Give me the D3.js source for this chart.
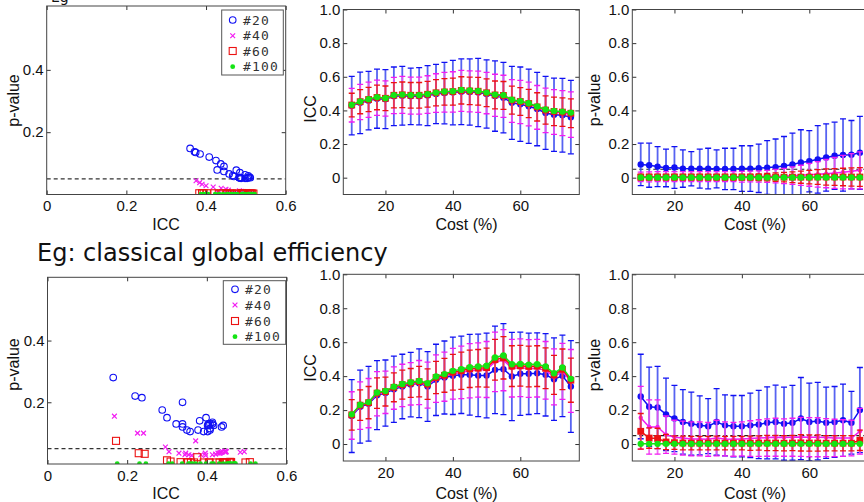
<!DOCTYPE html>
<html>
<head>
<meta charset="utf-8">
<script src="https://cdn.jsdelivr.net/npm/d3@7"></script>
<style>
  html, body { margin: 0; padding: 0; background: #fff; }
  svg { display: block; }
</style>
</head>
<body>
<svg id="fig" width="864" height="502"></svg>
<script>
// ---------- data ----------
const costs = [10,12.5,15,17.5,20,22.5,25,27.5,30,32.5,35,37.5,40,42.5,45,47.5,50,52.5,55,57.5,60,62.5,65,67.5,70,72.5,75];
const groupNames = ["#20", "#40", "#60", "#100"];

// Eg (top row): ICC mean / SD per cost
const egIcc20  = [0.428,0.445,0.458,0.47,0.467,0.484,0.487,0.484,0.484,0.488,0.498,0.503,0.506,0.511,0.509,0.506,0.498,0.485,0.476,0.445,0.437,0.425,0.408,0.385,0.374,0.371,0.36];
const egIcc40  = [0.431,0.45,0.463,0.475,0.471,0.489,0.492,0.488,0.488,0.494,0.503,0.508,0.51,0.516,0.513,0.511,0.503,0.49,0.484,0.456,0.45,0.438,0.418,0.4,0.39,0.384,0.375];
const egIcc60  = [0.432,0.452,0.465,0.477,0.472,0.49,0.493,0.49,0.49,0.496,0.505,0.51,0.512,0.519,0.516,0.514,0.505,0.492,0.489,0.461,0.453,0.441,0.421,0.402,0.394,0.39,0.383];
const egIcc100 = [0.433,0.453,0.467,0.479,0.473,0.491,0.494,0.491,0.491,0.497,0.506,0.512,0.514,0.522,0.518,0.516,0.506,0.494,0.491,0.463,0.455,0.443,0.423,0.405,0.397,0.393,0.387];
const egIccSd20 = [0.174,0.183,0.174,0.176,0.175,0.174,0.175,0.168,0.17,0.178,0.176,0.183,0.192,0.195,0.197,0.203,0.203,0.209,0.21,0.217,0.221,0.221,0.218,0.217,0.218,0.219,0.218];
const egIccSd40 = [0.1,0.105,0.105,0.105,0.105,0.108,0.11,0.11,0.11,0.112,0.115,0.118,0.12,0.122,0.122,0.123,0.123,0.125,0.125,0.127,0.128,0.13,0.13,0.132,0.133,0.134,0.135];
const egIccSd60 = [0.07,0.072,0.072,0.073,0.073,0.075,0.076,0.076,0.076,0.077,0.078,0.079,0.08,0.081,0.082,0.083,0.083,0.083,0.083,0.083,0.083,0.084,0.084,0.084,0.085,0.085,0.085];
// Eg (top row): p-value mean / SD per cost
const egP20  = [0.079,0.074,0.066,0.058,0.061,0.054,0.053,0.054,0.054,0.052,0.052,0.052,0.054,0.054,0.056,0.06,0.063,0.07,0.078,0.09,0.098,0.109,0.12,0.13,0.135,0.137,0.148];
const egP40  = [0.005,0.005,0.006,0.006,0.006,0.006,0.006,0.006,0.006,0.006,0.006,0.006,0.006,0.007,0.007,0.008,0.009,0.01,0.012,0.014,0.017,0.02,0.024,0.028,0.033,0.038,0.044];
const egP60  = [0.003,0.003,0.003,0.003,0.003,0.003,0.003,0.003,0.003,0.003,0.003,0.003,0.003,0.003,0.003,0.003,0.003,0.003,0.003,0.003,0.003,0.004,0.004,0.004,0.004,0.004,0.004];
const egP100 = [0.001,0.001,0.001,0.001,0.001,0.001,0.001,0.001,0.001,0.001,0.001,0.001,0.001,0.001,0.001,0.001,0.001,0.001,0.001,0.001,0.001,0.001,0.001,0.001,0.001,0.001,0.001];
const egPSd20 = [0.126,0.131,0.119,0.112,0.124,0.111,0.102,0.116,0.121,0.113,0.123,0.123,0.136,0.136,0.144,0.16,0.167,0.175,0.187,0.195,0.182,0.201,0.2,0.2,0.215,0.203,0.217];
const egPSd40 = [0.028,0.03,0.03,0.03,0.03,0.03,0.03,0.03,0.03,0.03,0.03,0.03,0.032,0.032,0.034,0.036,0.04,0.045,0.052,0.06,0.068,0.076,0.084,0.092,0.1,0.105,0.11];
const egPSd60 = [0.018,0.018,0.018,0.018,0.018,0.018,0.018,0.018,0.018,0.018,0.018,0.018,0.018,0.018,0.02,0.022,0.025,0.028,0.032,0.036,0.04,0.044,0.048,0.05,0.052,0.054,0.056];

// Classical global efficiency (bottom row): ICC mean / SD per cost
const ceIcc20  = [0.165,0.22,0.237,0.288,0.3,0.323,0.339,0.35,0.358,0.339,0.378,0.392,0.402,0.408,0.408,0.404,0.404,0.437,0.441,0.398,0.414,0.414,0.417,0.408,0.382,0.402,0.339];
const ceIcc40  = [0.168,0.226,0.241,0.296,0.305,0.33,0.345,0.355,0.362,0.347,0.385,0.397,0.414,0.422,0.432,0.436,0.439,0.484,0.494,0.447,0.449,0.445,0.447,0.434,0.396,0.428,0.372];
const ceIcc60  = [0.172,0.229,0.244,0.3,0.309,0.334,0.35,0.36,0.368,0.353,0.392,0.405,0.423,0.432,0.443,0.447,0.45,0.497,0.508,0.459,0.461,0.457,0.459,0.446,0.407,0.44,0.376];
const ceIcc100 = [0.175,0.231,0.247,0.304,0.313,0.338,0.354,0.364,0.372,0.358,0.398,0.412,0.431,0.441,0.453,0.457,0.461,0.51,0.522,0.47,0.472,0.468,0.47,0.457,0.417,0.451,0.384];
const ceIccSd20 = [0.215,0.215,0.22,0.203,0.195,0.195,0.19,0.19,0.203,0.205,0.21,0.215,0.228,0.228,0.238,0.243,0.25,0.258,0.268,0.26,0.245,0.24,0.238,0.243,0.243,0.24,0.27];
const ceIccSd40 = [0.14,0.14,0.145,0.13,0.125,0.125,0.125,0.125,0.13,0.135,0.14,0.145,0.15,0.155,0.16,0.16,0.165,0.175,0.18,0.17,0.17,0.17,0.17,0.17,0.165,0.165,0.185];
const ceIccSd60 = [0.09,0.09,0.095,0.09,0.085,0.085,0.085,0.085,0.09,0.09,0.095,0.1,0.105,0.11,0.11,0.11,0.115,0.12,0.125,0.12,0.12,0.12,0.12,0.12,0.115,0.12,0.13];
// Classical global efficiency (bottom row): p-value mean / SD per cost
const ceP20  = [0.28,0.22,0.215,0.175,0.15,0.13,0.12,0.11,0.105,0.13,0.11,0.105,0.105,0.11,0.115,0.125,0.13,0.12,0.125,0.15,0.13,0.135,0.125,0.13,0.14,0.125,0.2];
const ceP40  = [0.155,0.1,0.1,0.055,0.04,0.035,0.03,0.03,0.028,0.035,0.03,0.028,0.03,0.032,0.035,0.038,0.04,0.038,0.04,0.042,0.04,0.04,0.038,0.036,0.035,0.035,0.075];
const ceP60  = [0.075,0.035,0.033,0.012,0.008,0.006,0.005,0.005,0.005,0.006,0.005,0.005,0.005,0.005,0.006,0.006,0.006,0.005,0.006,0.007,0.006,0.006,0.005,0.005,0.005,0.005,0.022];
const ceP100 = [0.001,0.001,0.001,0.001,0.001,0.001,0.001,0.001,0.001,0.001,0.001,0.001,0.001,0.001,0.001,0.001,0.001,0.001,0.001,0.001,0.001,0.001,0.001,0.001,0.001,0.001,0.001];
const cePSd20 = [0.249,0.233,0.242,0.213,0.195,0.19,0.186,0.174,0.162,0.196,0.18,0.181,0.181,0.19,0.201,0.212,0.217,0.215,0.22,0.242,0.229,0.228,0.21,0.209,0.213,0.185,0.251];
const cePSd40 = [0.185,0.16,0.16,0.11,0.1,0.1,0.1,0.1,0.1,0.105,0.1,0.1,0.1,0.105,0.108,0.11,0.112,0.11,0.112,0.115,0.115,0.115,0.112,0.11,0.108,0.105,0.135];
const cePSd60 = [0.105,0.06,0.06,0.045,0.04,0.04,0.04,0.04,0.04,0.04,0.04,0.04,0.04,0.042,0.042,0.045,0.045,0.045,0.045,0.048,0.048,0.048,0.045,0.045,0.045,0.045,0.06];

const pThreshold = 0.05;

// ---------- styling ----------
const FONT = "'Liberation Sans', Arial, Helvetica, sans-serif";
const colors = ["#1010f4", "#f21cf2", "#ec1212", "#14e414"];
const barColors = ["#3a48ee", "#f050f0", "#ea3434", "#14e414"];

const rows = [
  {
    icc: [egIcc20, egIcc40, egIcc60, egIcc100],
    iccSd: [egIccSd20, egIccSd40, egIccSd60, null],
    p: [egP20, egP40, egP60, egP100],
    pSd: [egPSd20, egPSd40, egPSd60, null],
    scatter: { x0: 46.7, x1: 285.7, y0: 6, y1: 194.5 },
    mid: { x0: 343.3, x1: 579.3, y0: 9.5, y1: 194.5 },
    right: { x0: 632.3, x1: 868.3, y0: 9.5, y1: 194.5 },
    legend: { x0: 221.7, y0: 10, x1: 283.3, y1: 75, ys: [20, 35.7, 51, 66.7], mx: 232.7, tx: 243 },
    yLab: [100.5, 109, 100], xLabY: 230
  },
  {
    icc: [ceIcc20, ceIcc40, ceIcc60, ceIcc100],
    iccSd: [ceIccSd20, ceIccSd40, ceIccSd60, null],
    p: [ceP20, ceP40, ceP60, ceP100],
    pSd: [cePSd20, cePSd40, cePSd60, null],
    scatter: { x0: 47.5, x1: 286.5, y0: 277.3, y1: 464 },
    mid: { x0: 343.3, x1: 579.3, y0: 274.3, y1: 461 },
    right: { x0: 632.3, x1: 868.3, y0: 274.3, y1: 461 },
    legend: { x0: 223.3, y0: 280.7, x1: 285.7, y1: 344.3, ys: [289.3, 305, 321, 336.7], mx: 235, tx: 245 },
    yLab: [364.5, 368, 365], xLabY: 499
  }
];

const svg = d3.select("#fig");
let clipId = 0;

function styleAxis(sel) {
  sel.select(".domain").remove();
  sel.selectAll(".tick line").attr("stroke", "#333").attr("stroke-width", 1);
  sel.selectAll("text").attr("font-family", FONT).attr("font-size", 15).attr("fill", "#111");
  sel.attr("font-family", null).attr("font-size", null);
}

function frame(g, x, y, box, xTicks, yTicks, xFmt, yFmt) {
  const add = (axis, tx, ty) => g.append("g").attr("transform", `translate(${tx},${ty})`).call(axis).call(styleAxis);
  add(d3.axisBottom(x).tickValues(xTicks).tickFormat(xFmt).tickSizeInner(-4).tickSizeOuter(0).tickPadding(6), 0, box.y1);
  add(d3.axisTop(x).tickValues(xTicks).tickFormat("").tickSizeInner(-4).tickSizeOuter(0), 0, box.y0);
  add(d3.axisLeft(y).tickValues(yTicks).tickFormat(yFmt).tickSizeInner(-4).tickSizeOuter(0).tickPadding(3), box.x0, 0);
  add(d3.axisRight(y).tickValues(yTicks).tickFormat("").tickSizeInner(-4).tickSizeOuter(0), box.x1, 0);
  g.append("rect")
    .attr("x", box.x0).attr("y", box.y0)
    .attr("width", box.x1 - box.x0).attr("height", box.y1 - box.y0)
    .attr("fill", "none").attr("stroke", "#444").attr("stroke-width", 1);
}

function axisLabel(text, x, y, rotate) {
  svg.append("text")
    .attr("transform", `translate(${x},${y})` + (rotate ? " rotate(-90)" : ""))
    .attr("text-anchor", "middle")
    .attr("dy", rotate ? "0.35em" : null)
    .attr("font-family", FONT).attr("font-size", 16).attr("fill", "#111")
    .text(text);
}

function clipFor(box) {
  const id = "clip" + (clipId++);
  svg.append("clipPath").attr("id", id).append("rect")
    .attr("x", box.x0).attr("y", box.y0)
    .attr("width", box.x1 - box.x0).attr("height", box.y1 - box.y0);
  return `url(#${id})`;
}

// scatter marker shapes, one per group
function scatterMarker(g, k, cx, cy) {
  const c = colors[k];
  if (k === 0) {
    g.append("circle").attr("cx", cx).attr("cy", cy).attr("r", 3.3)
      .attr("fill", "none").attr("stroke", c).attr("stroke-width", 1.1);
  } else if (k === 1) {
    const s = 2.4;
    g.append("path").attr("d", `M${cx - s},${cy - s}L${cx + s},${cy + s}M${cx - s},${cy + s}L${cx + s},${cy - s}`)
      .attr("stroke", c).attr("stroke-width", 1.2).attr("fill", "none");
  } else if (k === 2) {
    g.append("rect").attr("x", cx - 3.5).attr("y", cy - 3.5).attr("width", 7).attr("height", 7)
      .attr("fill", "none").attr("stroke", c).attr("stroke-width", 1.1);
  } else {
    g.append("circle").attr("cx", cx).attr("cy", cy).attr("r", 2.4).attr("fill", c);
  }
}

// filled markers for the mean curves
function lineMarker(g, k, cx, cy) {
  const c = colors[k];
  if (k === 0) {
    g.append("circle").attr("cx", cx).attr("cy", cy).attr("r", 3.2).attr("fill", c);
  } else if (k === 1) {
    g.append("circle").attr("cx", cx).attr("cy", cy).attr("r", 2.2).attr("fill", c);
  } else if (k === 2) {
    g.append("rect").attr("x", cx - 3.4).attr("y", cy - 3.4).attr("width", 6.8).attr("height", 6.8).attr("fill", c);
  } else {
    g.append("circle").attr("cx", cx).attr("cy", cy).attr("r", 3.2).attr("fill", c);
  }
}

function drawScatter(row) {
  const box = row.scatter;
  const x = d3.scaleLinear().domain([0, 0.6]).range([box.x0, box.x1]);
  const y = d3.scaleLinear().domain([0, 0.605]).range([box.y1, box.y0]);
  const g = svg.append("g");
  const data = g.append("g").attr("clip-path", clipFor(box));

  data.append("line")
    .attr("x1", box.x0).attr("x2", box.x1)
    .attr("y1", y(pThreshold)).attr("y2", y(pThreshold))
    .attr("stroke", "#333").attr("stroke-width", 1.3).attr("stroke-dasharray", "4,3");

  for (let k = 0; k < 4; k++) {
    costs.forEach((c, i) => scatterMarker(data, k, x(row.icc[k][i]), y(row.p[k][i])));
  }

  frame(g, x, y, box, [0, 0.2, 0.4, 0.6], [0.2, 0.4],
    d => (d === 0 ? "0" : d3.format(".1f")(d)), d => d3.format(".1f")(d));

  // legend
  const L = row.legend;
  g.append("rect").attr("x", L.x0).attr("y", L.y0).attr("width", L.x1 - L.x0).attr("height", L.y1 - L.y0)
    .attr("fill", "#fff").attr("stroke", "#555").attr("stroke-width", 1);
  groupNames.forEach((name, k) => {
    scatterMarker(g, k, L.mx, L.ys[k]);
    g.append("text").attr("x", L.tx).attr("y", L.ys[k]).attr("dy", "0.36em")
      .attr("font-family", "'DejaVu Sans Mono', monospace").attr("font-size", 13)
      .attr("fill", "#333").attr("letter-spacing", 1.2)
      .text(name);
  });
}

function drawCurves(box, means, sds, withThreshold) {
  const x = d3.scaleLinear().domain([7.5, 77.5]).range([box.x0, box.x1]);
  const y = d3.scaleLinear().domain([-0.1, 1]).range([box.y1, box.y0]);
  const g = svg.append("g");
  const data = g.append("g").attr("clip-path", clipFor(box));

  if (withThreshold) {
    data.append("line")
      .attr("x1", box.x0).attr("x2", box.x1)
      .attr("y1", y(pThreshold)).attr("y2", y(pThreshold))
      .attr("stroke", "#222").attr("stroke-width", 1.2).attr("stroke-dasharray", "4,3");
  }

  const line = d3.line().x((d, i) => x(costs[i])).y(d => y(d));
  for (let k = 0; k < 4; k++) {
    const m = means[k], s = sds[k];
    if (s) {
      costs.forEach((c, i) => {
        const cx = x(c), top = y(m[i] + s[i]), bot = y(m[i] - s[i]);
        data.append("line").attr("x1", cx).attr("x2", cx).attr("y1", top).attr("y2", bot)
          .attr("stroke", barColors[k]).attr("stroke-width", 1.8).attr("stroke-opacity", 0.85);
        [top, bot].forEach(yy => data.append("line")
          .attr("x1", cx - 3).attr("x2", cx + 3).attr("y1", yy).attr("y2", yy)
          .attr("stroke", colors[k]).attr("stroke-width", 1.3));
      });
    }
    data.append("path").datum(m).attr("d", line)
      .attr("fill", "none").attr("stroke", colors[k]).attr("stroke-width", 1.5);
    costs.forEach((c, i) => lineMarker(data, k, x(c), y(m[i])));
  }

  frame(g, x, y, box, [20, 40, 60], [0, 0.2, 0.4, 0.6, 0.8, 1.0],
    d => String(d), d => (d === 0 ? "0" : d3.format(".1f")(d)));
}

rows.forEach(row => {
  drawScatter(row);
  drawCurves(row.mid, row.icc, row.iccSd, false);
  drawCurves(row.right, row.p, row.pSd, true);

  axisLabel("p-value", 13, row.yLab[0], true);
  axisLabel("ICC", 310, row.yLab[1], true);
  axisLabel("p-value", 594, row.yLab[2], true);
  axisLabel("ICC", 166, row.xLabY, false);
  axisLabel("Cost (%)", 466.5, row.xLabY, false);
  axisLabel("Cost (%)", 755, row.xLabY, false);
});

// row titles
svg.append("text").attr("x", 51).attr("y", 1.5)
  .attr("font-family", "'DejaVu Sans', Verdana, sans-serif").attr("font-size", 14).attr("fill", "#111")
  .text("Eg");
svg.append("text").attr("x", 37).attr("y", 261)
  .attr("font-family", "'DejaVu Sans', Verdana, sans-serif").attr("font-size", 24).attr("fill", "#111")
  .text("Eg: classical global efficiency");
</script>
</body>
</html>
